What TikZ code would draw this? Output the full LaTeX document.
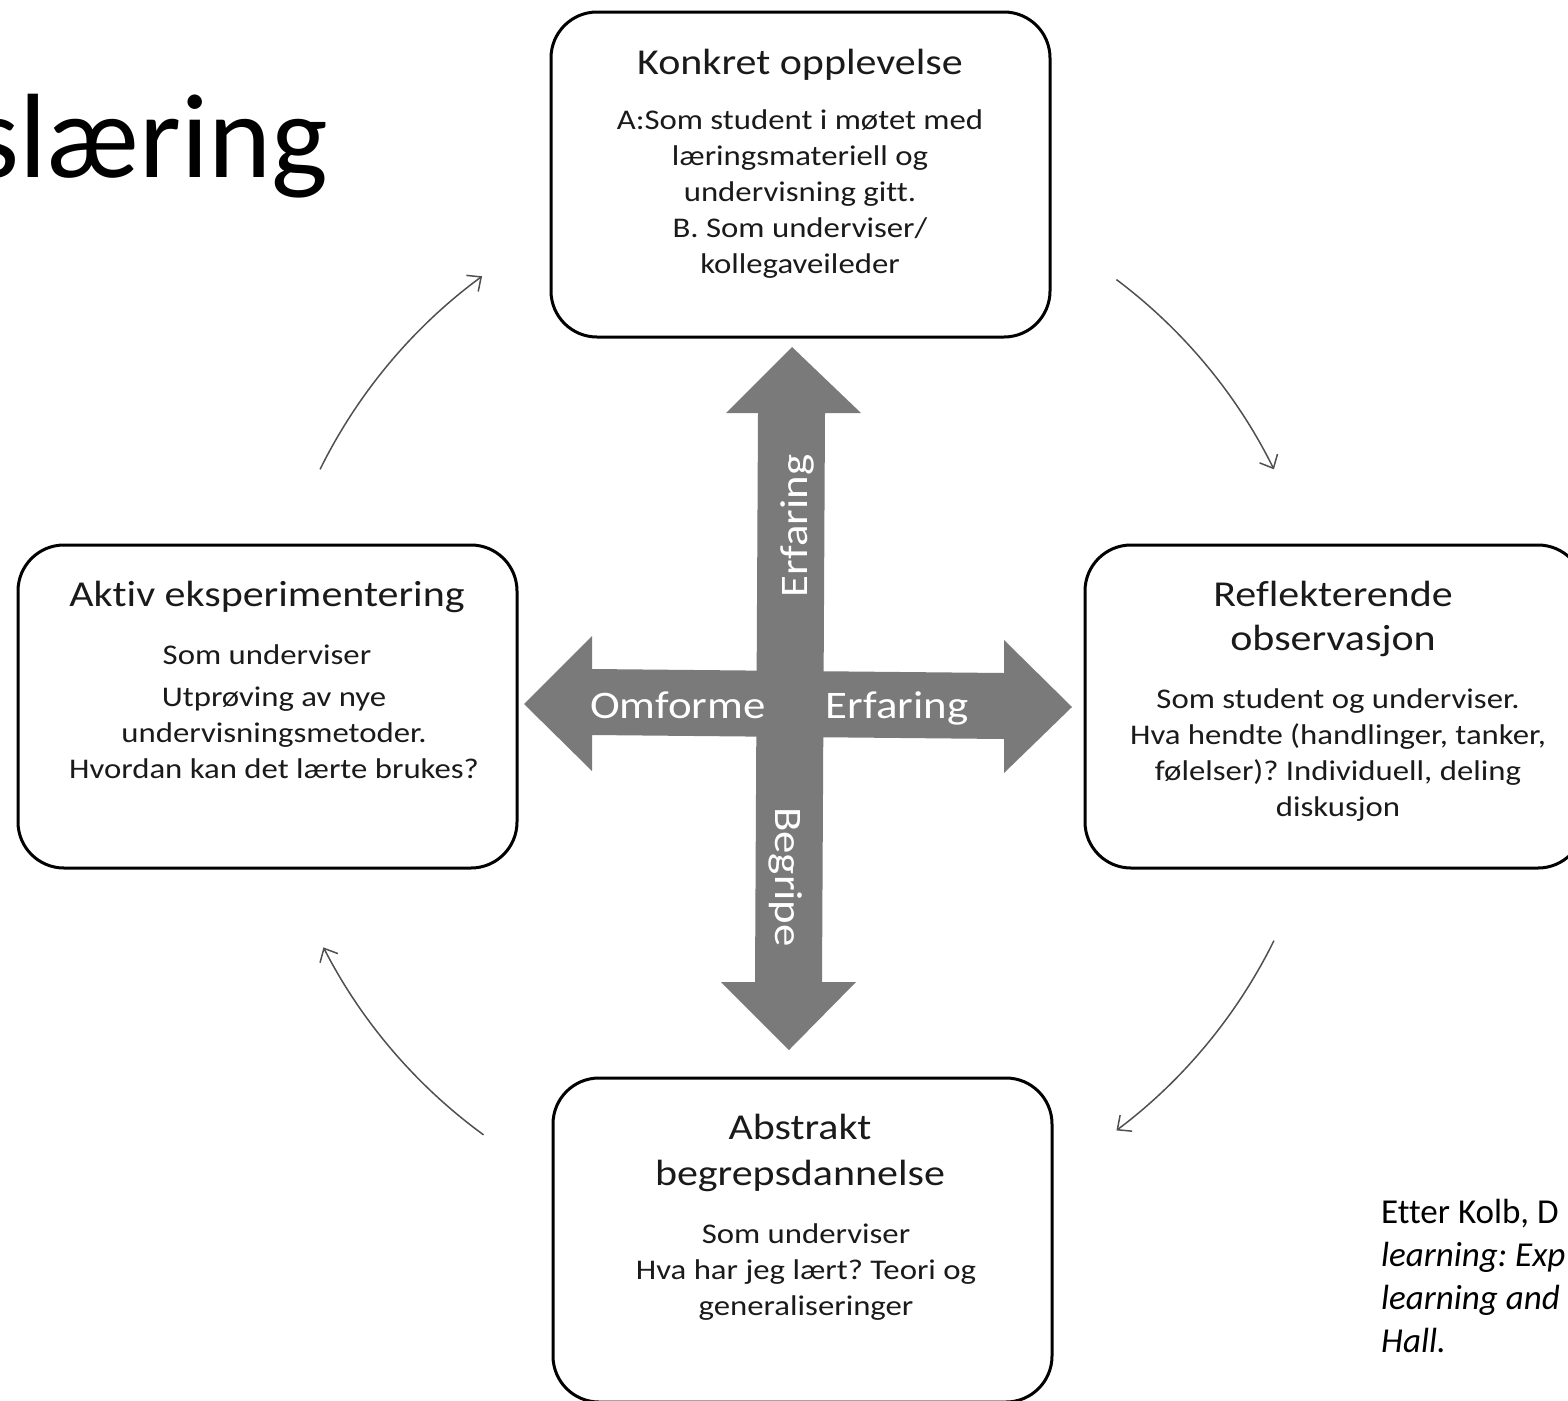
\documentclass[tikz,border=0pt]{standalone}
\usepackage{fontspec}
\setmainfont[Ligatures=NoCommon]{Carlito}
\newfontfamily\dfont[FakeStretch=1.15,Ligatures=NoCommon]{Carlito}
\usetikzlibrary{arrows.meta,calc}
\definecolor{arrowgray}{HTML}{7A7A7A}
\definecolor{txt}{HTML}{1A1A1A}
\definecolor{cyc}{HTML}{505050}
\frenchspacing
\begin{document}
\begin{tikzpicture}[x=1pt,y=-1pt,
  box/.style={draw=black, line width=3pt, rounded corners=46pt, rectangle,
    minimum width=499pt, inner sep=0pt, outer sep=0pt},
  head/.style={text=txt, align=center, inner sep=0pt, font=\dfont\fontsize{36.5}{45}\selectfont},
  body/.style={text=txt, align=center, inner sep=0pt, font=\dfont\fontsize{28.5}{36}\selectfont},
  crosstxt/.style={text=white, inner sep=0pt, font=\dfont\fontsize{39}{45}\selectfont},
  cycarrow/.style={draw=cyc, line width=1.5pt, -{Straight Barb[length=11pt,width=20pt]}}
]
\useasboundingbox (0,0) rectangle (1568,1400);

% title
\node[anchor=base west, inner sep=0pt, font=\fontsize{120}{135}\selectfont] (title) at (-28,177) {slæring};

% boxes
\node[box, minimum height=325pt] (konkret) at (800.5,174.5) {};
\node[box, minimum height=323pt] (aktiv) at (267.5,706.5) {};
\node[box, minimum height=323pt] (refl) at (1334.5,706.5) {};
\node[box, minimum height=324pt] (abstr) at (802.5,1240) {};

% box texts
\node[head] (konkretH) at (800,65) {Konkret opplevelse};
\node[body] (konkretB) at (800,194) {A:Som student i møtet med\\ læringsmateriell og\\ undervisning gitt.\\ B. Som underviser/\\ kollegaveileder};

\node[head] (aktivH) at (267,597) {Aktiv eksperimentering};
\node[body] (aktivB1) at (267,655) {Som underviser};
\node[body] (aktivB2) at (274,733) {Utprøving av nye\\ undervisningsmetoder.\\ Hvordan kan det lærte brukes?};

\node[head, font=\dfont\fontsize{36.5}{44}\selectfont] (reflH) at (1333,619) {Reflekterende\\ observasjon};
\node[body] (reflB) at (1338,755) {Som student og underviser.\\ Hva hendte (handlinger, tanker,\\ følelser)? Individuell, deling\\ diskusjon};

\node[head, font=\dfont\fontsize{36.5}{46}\selectfont] (abstrH) at (800,1153) {Abstrakt\\ begrepsdannelse};
\node[body] (abstrB) at (806,1272) {Som underviser\\ Hva har jeg lært? Teori og\\ generaliseringer};

% cross arrows
\fill[arrowgray] (792,347) -- (861,413) -- (825,413) -- (822,982) -- (856,982) -- (789,1050)
  -- (721,982) -- (755,982) -- (758,413) -- (726,413) -- cycle;
\fill[arrowgray] (524,704) -- (592,636) -- (592,669) -- (1004,673) -- (1004,640) -- (1072,707)
  -- (1004,773) -- (1004,739) -- (592,735) -- (592,771) -- cycle;

\node[crosstxt, rotate=90] (erfV) at (797,526) {Erfaring};
\node[crosstxt] (omf) at (678,705) {Omforme};
\node[crosstxt] (erfH) at (897,708) {Erfaring};
\node[crosstxt, rotate=-90] (begr) at (786,877) {Begripe};

% cycle arrows
\coordinate (ctr) at (797,705);
\coordinate (tlS) at ($(ctr)+(-153.7:532)$);
\coordinate (trS) at ($(ctr)+(-53.1:532)$);
\coordinate (brS) at ($(ctr)+(26.3:532)$);
\coordinate (blS) at ($(ctr)+(126.1:532)$);
\draw[cycarrow] (tlS) arc[start angle=-153.7, end angle=-126.3, radius=532];
\draw[cycarrow] (trS) arc[start angle=-53.1, end angle=-26.3, radius=532];
\draw[cycarrow] (brS) arc[start angle=26.3, end angle=53.1, radius=532];
\draw[cycarrow] (blS) arc[start angle=126.1, end angle=152.9, radius=532];

% citation
\node[anchor=west, align=left, inner sep=0pt, text=black,
  font=\fontsize{35}{43}\selectfont] (cite) at (1381,1275.5)
  {Etter Kolb, D\\ \textit{learning: Exp}\\ \textit{learning and}\\ \textit{Hall.}};
\end{tikzpicture}
\end{document}
